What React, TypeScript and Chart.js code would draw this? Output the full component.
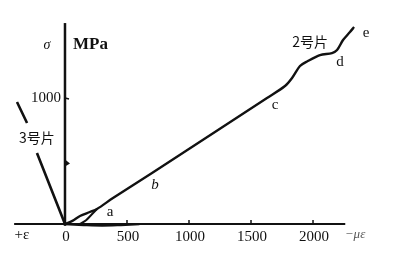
import React, { useEffect, useRef } from "react";
import { Chart, registerables } from "chart.js";

Chart.register(...registerables);

// Strain (µε) axis ticks and stress (MPa) axis ticks
const xTickValues = [0, 500, 1000, 1500, 2000];
const xTickLabels = ["0", "500", "1000", "1500", "2000"];
const yTickValues = [1000];
const yTickLabels = ["1000"];

// Specimen 2 (2号片): strain (µε) vs stress (MPa)
const spec2Strain = [0, 60, 121, 200, 258, 387, 702, 1234, 1629, 1774, 1831, 1895, 1952, 2056, 2153, 2194, 2242, 2298, 2331];
const spec2Stress = [0, 25, 63, 95, 119, 206, 405, 746, 1000, 1095, 1159, 1254, 1290, 1341, 1357, 1381, 1460, 1524, 1563];

// Small hysteresis loop near point a
const loopStrain = [120, 170, 215, 258];
const loopStress = [0, 30, 75, 119];

// Lower branch along the strain axis
const baseStrain = [0, 150, 300, 450, 600];
const baseStress = [-4, -10, -14, -10, -4];

// Specimen 3 (3号片): positive strain side
const spec3Strain = [-387, -306, -266, -226, 0];
const spec3Stress = [968, 802, null, 563, 0];

// Point labels on the curve
const pointNames = ["a", "b", "c", "d", "e"];
const pointStrain = [363, 726, 1694, 2218, 2427];
const pointStress = [95, 310, 944, 1286, 1516];

const toPts = (xs: number[], ys: (number | null)[]) => xs.map((x, i) => ({ x, y: ys[i] }));

export default function App() {
  const ref = useRef<HTMLCanvasElement | null>(null);

  useEffect(() => {
    if (!ref.current) return;
    const serif = '"Liberation Serif", "DejaVu Serif", serif';
    const cjk = '"Noto Sans CJK SC", sans-serif';

    const annot = {
      id: "annot",
      beforeDatasetsDraw(chart: any) {
        const ctx = chart.ctx;
        const xs = chart.scales.x;
        const ys = chart.scales.y;
        const X = (v: number) => xs.getPixelForValue(v);
        const Y = (v: number) => ys.getPixelForValue(v);
        ctx.save();
        ctx.strokeStyle = "#111";
        ctx.fillStyle = "#111";
        // strain axis
        ctx.lineWidth = 2;
        ctx.beginPath();
        ctx.moveTo(X(-410), Y(0));
        ctx.lineTo(X(2260), Y(0));
        ctx.stroke();
        // stress axis
        ctx.lineWidth = 2.5;
        ctx.beginPath();
        ctx.moveTo(X(0), Y(-15));
        ctx.lineTo(X(0), Y(1595));
        ctx.stroke();
        // x ticks
        ctx.lineWidth = 1.5;
        xTickValues.forEach((v) => {
          if (v === 0) return;
          ctx.beginPath();
          ctx.moveTo(X(v), Y(0));
          ctx.lineTo(X(v), Y(0) - 4);
          ctx.stroke();
        });
        yTickValues.forEach((v) => {
          ctx.beginPath();
          ctx.moveTo(X(0), Y(v));
          ctx.lineTo(X(0) + 4, Y(v) + 1);
          ctx.stroke();
        });
        // small arrow on stress axis
        ctx.beginPath();
        ctx.moveTo(X(0), Y(480) - 4);
        ctx.lineTo(X(0) + 5, Y(480));
        ctx.lineTo(X(0), Y(480) + 3);
        ctx.closePath();
        ctx.fill();
        ctx.restore();
      },
      afterDatasetsDraw(chart: any) {
        const ctx = chart.ctx;
        const xs = chart.scales.x;
        const ys = chart.scales.y;
        const X = (v: number) => xs.getPixelForValue(v);
        const Y = (v: number) => ys.getPixelForValue(v);
        ctx.save();
        ctx.fillStyle = "#111";
        ctx.textBaseline = "middle";
        ctx.font = `15px ${serif}`;
        ctx.textAlign = "center";
        xTickValues.forEach((v, i) => {
          ctx.fillText(xTickLabels[i], X(v) + 1, Y(0) + 13);
        });
        ctx.textAlign = "right";
        yTickValues.forEach((v, i) => {
          ctx.fillText(yTickLabels[i], X(0) - 4, Y(v));
        });
        // axis names
        ctx.textAlign = "center";
        ctx.font = `italic 14px ${serif}`;
        ctx.fillText("σ", X(-145), Y(1421));
        ctx.font = `15px ${serif}`;
        ctx.fillText("+ε", X(-347), Y(-87));
        ctx.fillStyle = "#555";
        ctx.font = `italic 13px ${serif}`;
        ctx.fillText("−με", X(2339), Y(-85));
        ctx.fillStyle = "#111";
        ctx.textAlign = "left";
        ctx.font = `bold 17px ${serif}`;
        ctx.fillText("MPa", X(0) + 8, Y(1421));
        // point labels
        ctx.textAlign = "center";
        pointNames.forEach((n, i) => {
          ctx.font = n === "b" ? `italic 15px ${serif}` : `15px ${serif}`;
          ctx.fillText(n, X(pointStrain[i]), Y(pointStress[i]));
        });
        // specimen labels
        ctx.font = `14px ${cjk}`;
        ctx.fillText("2号片", X(1976), Y(1444));
        ctx.fillText("3号片", X(-226), Y(683));
        ctx.restore();
      },
    };

    const chart = new Chart(ref.current, {
      type: "scatter",
      data: {
        datasets: [
          {
            data: toPts(spec2Strain, spec2Stress),
            showLine: true,
            borderColor: "#111",
            borderWidth: 2.4,
            pointRadius: 0,
            tension: 0.3,
          },
          {
            data: toPts(loopStrain, loopStress),
            showLine: true,
            borderColor: "#111",
            borderWidth: 2,
            pointRadius: 0,
            tension: 0.3,
          },
          {
            data: toPts(baseStrain, baseStress),
            showLine: true,
            borderColor: "#111",
            borderWidth: 1.8,
            pointRadius: 0,
            tension: 0.3,
          },
          {
            data: toPts(spec3Strain, spec3Stress),
            showLine: true,
            spanGaps: false,
            borderColor: "#111",
            borderWidth: 2.6,
            pointRadius: 0,
          },
        ],
      } as any,
      options: {
        animation: false,
        responsive: false,
        devicePixelRatio: 1,
        layout: { padding: 0 },
        plugins: { legend: { display: false }, tooltip: { enabled: false } },
        scales: {
          x: { type: "linear", min: -524, max: 2653, display: false },
          y: { type: "linear", min: -294, max: 1778, display: false },
        },
      },
      plugins: [annot],
    });
    return () => chart.destroy();
  }, []);

  return (
    <canvas
      ref={ref}
      width={394}
      height={261}
      style={{ position: "absolute", left: 0, top: 0, width: 394, height: 261, background: "#fff" }}
    />
  );
}
